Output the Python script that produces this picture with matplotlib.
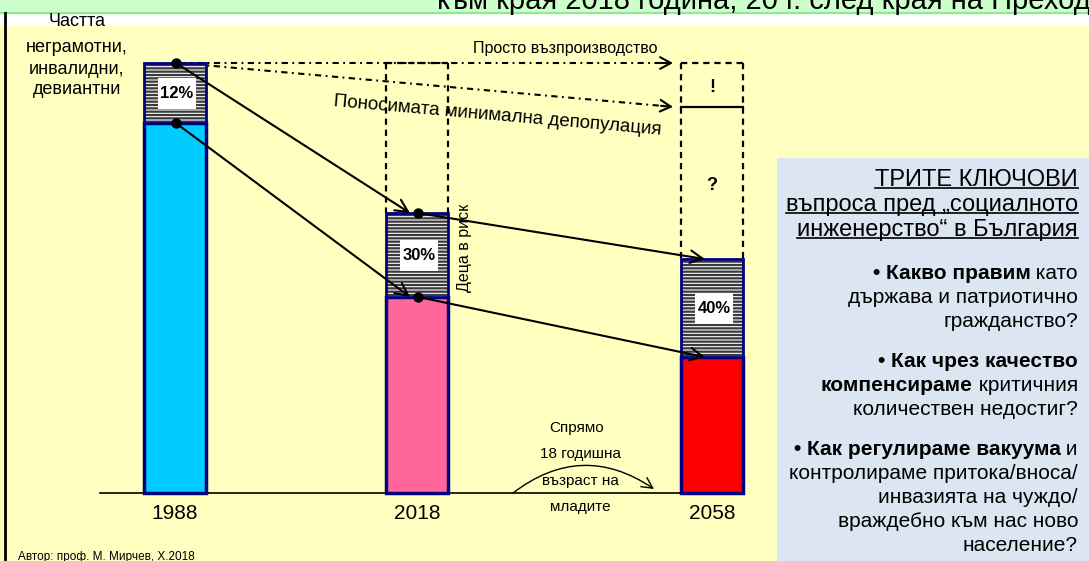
import matplotlib
matplotlib.use('Agg')
import matplotlib.pyplot as plt
from matplotlib.patches import Rectangle, FancyArrowPatch
from matplotlib.transforms import Affine2D

W, H = 1089, 561
plt.rcParams['font.family'] = ['Liberation Sans', 'DejaVu Sans']
plt.rcParams['hatch.linewidth'] = 1.6
plt.rcParams['lines.scale_dashes'] = False

# ---------------- data ----------------
years = ['1988', '2018', '2058']
healthy = [86.0, 45.6, 31.6]          # population level (1988 = 100), non-risk part
at_risk = [14.0, 19.5, 22.8]          # at-risk part
risk_labels = ['12%', '30%', '40%']
bar_colors = ['#00CCFF', '#FF6699', '#FF0000']
simple_reproduction = 100.0
tolerable_depopulation = 89.8

title_text = 'към края 2018 година, 20 г. след края на Прехода'
left_label = ['Частта', 'неграмотни,', 'инвалидни,', 'девиантни']
box_title = ['ТРИТЕ КЛЮЧОВИ', 'въпроса пред „социалното', 'инженерство“ в България']
box_lines = [
    [('• Какво правим', True), (' като', False)],
    [('държава и патриотично', False)],
    [('гражданство?', False)],
    [('• Как чрез качество', True)],
    [('компенсираме', True), (' критичния', False)],
    [('количествен недостиг?', False)],
    [('• Как регулираме вакуума', True), (' и', False)],
    [('контролираме притока/вноса/', False)],
    [('инвазията на чуждо/', False)],
    [('враждебно към нас ново', False)],
    [('население?', False)],
]

# ---------------- layout ----------------
BAR_X = [175, 417, 712]
BAR_W = 62
BASE_PX, SCALE = 493, 4.3

fig = plt.figure(figsize=(W / 100, H / 100), dpi=100)
fig.patch.set_facecolor('#FFFFC0')
ax = fig.add_axes([0, 0, 1, 1])
ax.set_xlim(0, W)
ax.set_ylim((BASE_PX - H) / SCALE, BASE_PX / SCALE)
ax.axis('off')
ax.patch.set_alpha(0)
PX = Affine2D().scale(1 / W, -1 / H).translate(0, 1) + fig.transFigure


def vy(ypx):
    return (BASE_PX - ypx) / SCALE


def py(v):
    return BASE_PX - v * SCALE


# backgrounds
ax.add_patch(Rectangle((0, 0), W, 13, facecolor='#CCFFCC', edgecolor='none', transform=PX, zorder=0))
ax.add_patch(Rectangle((0, 14), W, 12, facecolor='white', edgecolor='none', transform=PX, zorder=0))
ax.plot([0, W], [13, 13], color='#88EE88', lw=1.5, transform=PX, zorder=1)
ax.add_patch(Rectangle((777, 158), W - 777, H - 158, facecolor='#DCE6F2', edgecolor='none', transform=PX, zorder=0))
ax.plot([5, 5], [13, H], color='black', lw=2, transform=PX, zorder=1)
ax.text(437, 9, title_text, transform=PX, fontsize=21, ha='left', va='baseline', zorder=2)

# baseline
ax.plot([100, BAR_X[2] + BAR_W / 2], [0, 0], color='black', lw=1.2, zorder=2)

# bars
tops = [h + r for h, r in zip(healthy, at_risk)]
ax.bar(BAR_X, healthy, width=BAR_W, color=bar_colors, edgecolor='#000080', linewidth=2.5, zorder=3)
ax.bar(BAR_X, at_risk, bottom=healthy, width=BAR_W, facecolor='#FAFAFA', edgecolor='#3A3A3A',
       hatch='-----', linewidth=0, zorder=3)
ax.bar(BAR_X, at_risk, bottom=healthy, width=BAR_W, fill=False, edgecolor='#000080', linewidth=2, zorder=4)
for i in range(3):
    cy = py(healthy[i] + at_risk[i] / 2)
    ax.add_patch(Rectangle((BAR_X[i] + 2 - 19, cy - 15), 38, 31, facecolor='white', edgecolor='none',
                           transform=PX, zorder=5))
    ax.text(BAR_X[i] + 2, cy + 0.5, risk_labels[i], transform=PX, ha='center', va='center',
            fontsize=12, fontweight='bold', zorder=6)
    ax.text(BAR_X[i], 514, years[i], transform=PX, ha='center', va='center', fontsize=15, zorder=6)

# dashed target boxes (2018, 2058)
dash = dict(color='black', lw=1.6, dashes=[4.5, 3.5], zorder=2)
for i in (1, 2):
    xl, xr = BAR_X[i] - BAR_W / 2, BAR_X[i] + BAR_W / 2
    ax.plot([xl, xl], [simple_reproduction, tops[i]], **dash)
    ax.plot([xr, xr], [simple_reproduction, tops[i]], **dash)
    ax.plot([xl, xr], [simple_reproduction, simple_reproduction], **dash)
ax.plot([BAR_X[2] - BAR_W / 2, BAR_X[2] + BAR_W / 2], [tolerable_depopulation] * 2, color='black', lw=1.6, zorder=3)

# dash-dot projections from 1988
x0 = BAR_X[0] + 5
tip_x = BAR_X[2] - BAR_W / 2 - 8
for target in (simple_reproduction, tolerable_depopulation):
    ax.plot([x0, tip_x - 6], [tops[0], tops[0] + (target - tops[0]) * (tip_x - 6 - x0) / (tip_x - x0)],
            color='black', lw=1.5, dashes=[4.5, 3.2, 1.3, 3.2], zorder=2)
    ax.add_patch(FancyArrowPatch((tip_x - 12, tops[0] + (target - tops[0]) * (tip_x - 12 - x0) / (tip_x - x0)),
                                 (tip_x, target), arrowstyle='->,head_length=0.55,head_width=0.3',
                                 mutation_scale=14, lw=1.5, color='black', shrinkA=0, shrinkB=0, zorder=3))

ax.text(565, 48, 'Просто възпроизводство', transform=PX, ha='center', va='center', fontsize=11.5)
ax.text(497, 116, 'Поносимата минимална депопулация', transform=PX, ha='center', va='center',
        fontsize=13.5, rotation=-5, rotation_mode='anchor')
ax.text(712, 87, '!', transform=PX, ha='center', va='center', fontsize=13, fontweight='bold')
ax.text(712, 185, '?', transform=PX, ha='center', va='center', fontsize=13, fontweight='bold')
ax.text(464, 248, 'Деца в риск', transform=PX, ha='center', va='center', fontsize=11.5, rotation=90)

# solid arrows between bars
arrow_kw = dict(arrowstyle='->,head_length=0.6,head_width=0.3', mutation_scale=15, lw=1.5,
                color='black', shrinkA=0, shrinkB=0, zorder=6)
for i in range(2):
    for lvl in (tops, healthy):
        ax.add_patch(FancyArrowPatch((BAR_X[i] + 1, lvl[i]), (BAR_X[i + 1] - 7, lvl[i + 1]), **arrow_kw))
ax.plot([BAR_X[0] + 1] * 2 + [BAR_X[1] + 1] * 2, [tops[0], healthy[0], tops[1], healthy[1]], 'o',
        color='black', ms=6.5, zorder=7)

# curved arrow and its text
ax.add_patch(FancyArrowPatch((513, vy(493)), (654, vy(489)), connectionstyle='arc3,rad=-0.36',
                             arrowstyle='->,head_length=0.55,head_width=0.28', mutation_scale=14,
                             lw=1.0, color='black', shrinkA=0, shrinkB=0, zorder=2))
for txt, (x, y) in zip(['Спрямо', '18 годишна', 'възраст на', 'младите'],
                       [(577, 428), (580, 454), (580, 481), (580, 507)]):
    ax.text(x, y, txt, transform=PX, ha='center', va='center', fontsize=11, zorder=3)

# left label
for txt, y in zip(left_label, [22, 47, 69, 90]):
    ax.text(77, y, txt, transform=PX, ha='center', va='center', fontsize=13, zorder=3)

ax.text(18, 560, 'Автор: проф. М. Мирчев, Х.2018', transform=PX, ha='left', va='baseline', fontsize=8.5)

# right box text
renderer = fig.canvas.get_renderer()
RX = 1078
for txt, y in zip(box_title, [178, 203, 228]):
    t = ax.text(RX, y + 8, txt, transform=PX, ha='right', va='baseline', fontsize=17, zorder=3)
    bb = t.get_window_extent(renderer)
    ax.plot([bb.x0, bb.x1], [y + 10.5, y + 10.5], color='black', lw=1.2, transform=PX, zorder=3)

for parts, y in zip(box_lines, [274, 298, 322, 362, 386, 410, 450, 474, 498, 522, 546]):
    x = RX
    for txt, bold in reversed(parts):
        t = ax.text(x, y, txt, transform=PX, ha='right', va='center', fontsize=15,
                    fontweight='bold' if bold else 'normal', zorder=3)
        x -= t.get_window_extent(renderer).width

fig.savefig('out.png', dpi=100, facecolor=fig.get_facecolor())
